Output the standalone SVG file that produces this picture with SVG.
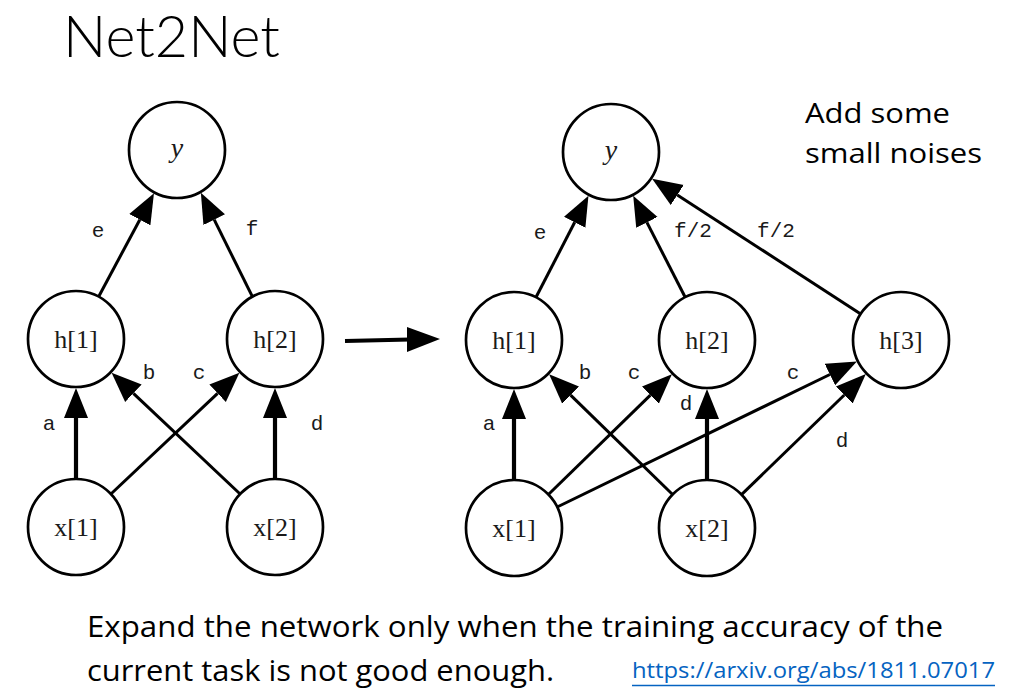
<svg xmlns="http://www.w3.org/2000/svg" width="1017" height="699" viewBox="0 0 1017 699">
  <style>
    .node circle { fill: #fff; stroke: #000; stroke-width: 2.7; }
    .node text { font-family: "Liberation Serif", "DejaVu Serif", serif; font-size: 26px; fill: #1a1a1a; text-anchor: middle; }
    .node text.it { font-style: italic; font-size: 28px; }
    .edge { stroke: #000; stroke-width: 3; fill: none; marker-end: url(#head); }
    .edge.v { stroke-width: 4.2; }
    .lbl { font-family: "Liberation Mono", "DejaVu Sans Mono", monospace; font-size: 21px; fill: #1a1a1a; text-anchor: middle; }
    .sans { font-family: "Open Sans", "Noto Sans", "Liberation Sans", sans-serif; fill: #000; }
  </style>
  <defs>
    <marker id="head" markerUnits="userSpaceOnUse" markerWidth="32" markerHeight="26" viewBox="0 -13 32 26" refX="0" refY="0" orient="auto">
      <path d="M0,-12 L30,0 L0,12 z" fill="#000"/>
    </marker>
  </defs>

  <rect width="1017" height="699" fill="#fff"/>

  <!-- title -->
  <text x="63" y="57" font-family="Lato, 'Open Sans', sans-serif" font-size="57" font-weight="300" fill="#000" textLength="217" lengthAdjust="spacingAndGlyphs">Net2Net</text>

  <!-- connectors -->
  <g id="connectors">
    <!-- original network -->
    <line class="edge" x1="98.6" y1="296.7" x2="139.8" y2="219.7"/>
    <line class="edge" x1="252.4" y1="296.7" x2="214.2" y2="219.7"/>
    <line class="edge v" x1="76" y1="479" x2="76" y2="418"/>
    <line class="edge v" x1="275" y1="479" x2="275" y2="418"/>
    <line class="edge" x1="240.1" y1="494" x2="133.4" y2="393.3"/>
    <line class="edge" x1="110.9" y1="494" x2="217.6" y2="393.3"/>

    <!-- widened network -->
    <line class="edge" x1="536" y1="297.3" x2="574.7" y2="222.3"/>
    <line class="edge" x1="685.2" y1="297.2" x2="646.9" y2="222.4"/>
    <line class="edge" x1="860.7" y1="313.9" x2="677.3" y2="195"/>
    <line class="edge v" x1="514" y1="480" x2="514" y2="419"/>
    <line class="edge v" x1="707" y1="480" x2="707" y2="419"/>
    <line class="edge" x1="672.6" y1="494.5" x2="570.6" y2="395.1"/>
    <line class="edge" x1="548.4" y1="494.5" x2="650.4" y2="395.1"/>
    <line class="edge" x1="557.2" y1="507" x2="829.9" y2="374.5"/>
    <line class="edge" x1="741.5" y1="494.6" x2="844.3" y2="395"/>

    <!-- transformation arrow -->
    <line x1="345" y1="341" x2="410" y2="339.5" stroke="#000" stroke-width="4"/>
    <polygon points="407,327 440,339 407,352" fill="#000"/>
  </g>

  <!-- edge weights -->
  <g id="edge-labels">
    <text class="lbl" x="98" y="237">e</text>
    <text class="lbl" x="252" y="235">f</text>
    <text class="lbl" x="149" y="379">b</text>
    <text class="lbl" x="199" y="379">c</text>
    <text class="lbl" x="49" y="430">a</text>
    <text class="lbl" x="317" y="430">d</text>

    <text class="lbl" x="540" y="239">e</text>
    <text class="lbl" x="693" y="237">f/2</text>
    <text class="lbl" x="776" y="237">f/2</text>
    <text class="lbl" x="585" y="379">b</text>
    <text class="lbl" x="634" y="379">c</text>
    <text class="lbl" x="686" y="410">d</text>
    <text class="lbl" x="489" y="430">a</text>
    <text class="lbl" x="793" y="379">c</text>
    <text class="lbl" x="842" y="447">d</text>
  </g>

  <!-- original network nodes -->
  <g id="L-y" class="node"><circle cx="177" cy="150" r="48"/><text class="it" x="177" y="157">y</text></g>
  <g id="L-h1" class="node"><circle cx="76" cy="339" r="48"/><text x="76" y="348">h[1]</text></g>
  <g id="L-h2" class="node"><circle cx="275" cy="339" r="48"/><text x="275" y="348">h[2]</text></g>
  <g id="L-x1" class="node"><circle cx="76" cy="527" r="48"/><text x="76" y="536">x[1]</text></g>
  <g id="L-x2" class="node"><circle cx="275" cy="527" r="48"/><text x="275" y="536">x[2]</text></g>

  <!-- widened network nodes -->
  <g id="R-y" class="node"><circle cx="611" cy="152" r="48"/><text class="it" x="611" y="159">y</text></g>
  <g id="R-h1" class="node"><circle cx="514" cy="340" r="48"/><text x="514" y="349">h[1]</text></g>
  <g id="R-h2" class="node"><circle cx="707" cy="340" r="48"/><text x="707" y="349">h[2]</text></g>
  <g id="R-h3" class="node"><circle cx="901" cy="340" r="48"/><text x="901" y="349">h[3]</text></g>
  <g id="R-x1" class="node"><circle cx="514" cy="528" r="48"/><text x="514" y="537">x[1]</text></g>
  <g id="R-x2" class="node"><circle cx="707" cy="528" r="48"/><text x="707" y="537">x[2]</text></g>

  <!-- notes -->
  <text class="sans" x="805" y="123" font-size="28" textLength="145" lengthAdjust="spacingAndGlyphs">Add some</text>
  <text class="sans" x="805" y="163" font-size="28" textLength="177" lengthAdjust="spacingAndGlyphs">small noises</text>

  <text class="sans" x="87" y="637" font-size="29" textLength="856" lengthAdjust="spacingAndGlyphs">Expand the network only when the training accuracy of the</text>
  <text class="sans" x="87" y="681" font-size="29" textLength="467" lengthAdjust="spacingAndGlyphs">current task is not good enough.</text>

  <text x="632" y="678" font-family="Open Sans, Noto Sans, Liberation Sans, sans-serif" font-size="22" fill="#0563C1" textLength="363" lengthAdjust="spacingAndGlyphs">https://arxiv.org/abs/1811.07017</text>
  <line x1="632" y1="685.5" x2="995" y2="685.5" stroke="#0563C1" stroke-width="1.5"/>
</svg>
